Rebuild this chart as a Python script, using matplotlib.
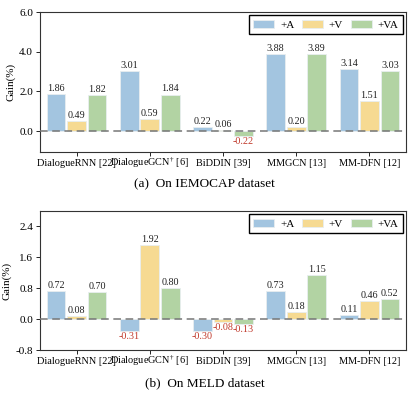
import numpy as np
import matplotlib
matplotlib.use('Agg')
import matplotlib.pyplot as plt

plt.rcParams['font.family'] = ['Liberation Serif', 'DejaVu Serif']
plt.rcParams['mathtext.fontset'] = 'custom'
plt.rcParams['mathtext.rm'] = 'Liberation Serif'
plt.rcParams['mathtext.it'] = 'Liberation Serif:italic'

methods = ['DialogueRNN [22]', 'DialogueGCN$^{\u2020}$ [6]', 'BiDDIN [39]', 'MMGCN [13]', 'MM-DFN [12]']
series = ['+A', '+V', '+VA']
colors = ['#a3c5e0', '#f6da92', '#b2d3a3']

iemocap_a = [1.86, 3.01, 0.22, 3.88, 3.14]
iemocap_v = [0.49, 0.59, 0.06, 0.20, 1.51]
iemocap_va = [1.82, 1.84, -0.22, 3.89, 3.03]

meld_a = [0.72, -0.31, -0.30, 0.73, 0.11]
meld_v = [0.08, 1.92, -0.08, 0.18, 0.46]
meld_va = [0.70, 0.80, -0.13, 1.15, 0.52]

fig = plt.figure(figsize=(4.12, 3.94), dpi=100)
ax1 = fig.add_axes([40 / 412, 1 - 152 / 394, 366 / 412, 140 / 394])
ax2 = fig.add_axes([40 / 412, 1 - 350 / 394, 366 / 412, 139 / 394])


def draw(ax, data, ylim, yticks, off):
    x = np.arange(len(methods))
    for i, (vals, c, name) in enumerate(zip(data, colors, series)):
        pos = x + (i - 1) * 0.28
        ax.bar(pos, vals, width=0.255, color=c, edgecolor='#e8eef0',
               linewidth=0.6, label=name, zorder=2)
        for p, v in zip(pos, vals):
            if v >= 0:
                ax.text(p, v + off, f'{v:.2f}', ha='center', va='bottom',
                        fontsize=7.3, color='#222222')
            else:
                ax.text(p, v - off, f'{v:.2f}', ha='center', va='top',
                        fontsize=7.3, color='#c0392b')
    ax.axhline(0, color='#777777', linestyle=(0, (5, 3)), linewidth=1.1, zorder=3)
    ax.set_xlim(-0.5, 4.5)
    ax.set_ylim(*ylim)
    ax.set_yticks(yticks)
    ax.set_yticklabels([f'{t:.1f}' for t in yticks])
    ax.set_xticks(x)
    ax.set_xticklabels(methods, va='baseline')
    ax.tick_params(axis='both', labelsize=8, length=3, width=0.6, pad=2)
    ax.tick_params(axis='x', pad=7, labelsize=7.4)
    ax.set_ylabel('Gain(%)', fontsize=8, labelpad=3)
    for s in ax.spines.values():
        s.set_linewidth(0.8)
        s.set_color('#333333')
    ax.legend(loc='upper right', ncol=3, fontsize=8, frameon=True, fancybox=False,
              edgecolor='black', framealpha=1, borderpad=0.4, handlelength=1.9,
              handletextpad=0.5, columnspacing=0.7, borderaxespad=0.3)


draw(ax1, [iemocap_a, iemocap_v, iemocap_va], (-1.05, 6.0), [0.0, 2.0, 4.0, 6.0], 0.06)
draw(ax2, [meld_a, meld_v, meld_va], (-0.8, 2.8), [-0.8, 0.0, 0.8, 1.6, 2.4], 0.03)

fig.text(204 / 412, 1 - 183 / 394, '(a)  On IEMOCAP dataset', ha='center', va='center', fontsize=9.5)
fig.text(205 / 412, 1 - 383 / 394, '(b)  On MELD dataset', ha='center', va='center', fontsize=9.5)

fig.savefig('out.png', dpi=100)
